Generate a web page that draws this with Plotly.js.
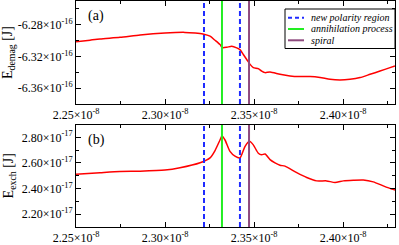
<!DOCTYPE html>
<html>
<head>
<meta charset="utf-8">
<script src="https://cdn.plot.ly/plotly-3.0.1.min.js"></script>
<style>
html,body{margin:0;padding:0;background:#fff;}
#chart{width:399px;height:245px;}
</style>
</head>
<body>
<div id="chart"></div>
<script>
// ---- data ----
var timeDemag = [2.2500e-8, 2.2579e-8, 2.2635e-8, 2.2747e-8, 2.2860e-8, 2.3000e-8, 2.3112e-8, 2.3169e-8, 2.3213e-8, 2.3253e-8, 2.3281e-8, 2.3309e-8, 2.3322e-8, 2.3347e-8, 2.3375e-8, 2.3403e-8, 2.3421e-8, 2.3440e-8, 2.3459e-8, 2.3478e-8, 2.3496e-8, 2.3524e-8, 2.3543e-8, 2.3562e-8, 2.3590e-8, 2.3646e-8, 2.3702e-8, 2.3758e-8, 2.3815e-8, 2.3871e-8, 2.3927e-8, 2.3983e-8, 2.4039e-8, 2.4096e-8, 2.4152e-8, 2.4208e-8, 2.4264e-8, 2.4292e-8];
var eDemag = [-6.3016e-16, -6.2994e-16, -6.2979e-16, -6.2959e-16, -6.2929e-16, -6.2904e-16, -6.2896e-16, -6.2904e-16, -6.2916e-16, -6.2944e-16, -6.2996e-16, -6.3050e-16, -6.3088e-16, -6.3084e-16, -6.3071e-16, -6.3091e-16, -6.3113e-16, -6.3175e-16, -6.3238e-16, -6.3300e-16, -6.3341e-16, -6.3354e-16, -6.3384e-16, -6.3404e-16, -6.3396e-16, -6.3425e-16, -6.3446e-16, -6.3454e-16, -6.3454e-16, -6.3466e-16, -6.3488e-16, -6.3496e-16, -6.3488e-16, -6.3466e-16, -6.3425e-16, -6.3384e-16, -6.3341e-16, -6.3319e-16];

var timeExch = [2.2500e-8, 2.2635e-8, 2.2747e-8, 2.2860e-8, 2.3000e-8, 2.3084e-8, 2.3197e-8, 2.3253e-8, 2.3281e-8, 2.3309e-8, 2.3320e-8, 2.3337e-8, 2.3365e-8, 2.3393e-8, 2.3421e-8, 2.3449e-8, 2.3474e-8, 2.3496e-8, 2.3524e-8, 2.3543e-8, 2.3562e-8, 2.3590e-8, 2.3618e-8, 2.3646e-8, 2.3674e-8, 2.3740e-8, 2.3796e-8, 2.3852e-8, 2.3908e-8, 2.3955e-8, 2.4002e-8, 2.4058e-8, 2.4114e-8, 2.4170e-8, 2.4226e-8, 2.4274e-8, 2.4292e-8];
var eExch = [2.511e-17, 2.524e-17, 2.534e-17, 2.536e-17, 2.544e-17, 2.562e-17, 2.601e-17, 2.639e-17, 2.697e-17, 2.779e-17, 2.810e-17, 2.779e-17, 2.690e-17, 2.653e-17, 2.639e-17, 2.728e-17, 2.769e-17, 2.741e-17, 2.676e-17, 2.664e-17, 2.670e-17, 2.626e-17, 2.601e-17, 2.582e-17, 2.575e-17, 2.524e-17, 2.486e-17, 2.460e-17, 2.460e-17, 2.447e-17, 2.460e-17, 2.465e-17, 2.467e-17, 2.452e-17, 2.421e-17, 2.396e-17, 2.389e-17];

var newPolarityTimes = [2.3219e-8, 2.3421e-8];
var annihilationTimes = [2.3320e-8];
var spiralTimes = [2.3472e-8];

var seriesNames = ["new polarity region", "annihilation process", "spiral"];

var xTickVals = [2.25e-8, 2.30e-8, 2.35e-8, 2.40e-8];
var xTickText = ["2.25×10<sup>-8</sup>", "2.30×10<sup>-8</sup>", "2.35×10<sup>-8</sup>", "2.40×10<sup>-8</sup>"];
var xMinorVals = [2.275e-8, 2.325e-8, 2.375e-8, 2.425e-8];

var yDemagTickVals = [-6.28e-16, -6.32e-16, -6.36e-16];
var yDemagTickText = ["-6.28×10<sup>-16</sup>", "-6.32×10<sup>-16</sup>", "-6.36×10<sup>-16</sup>"];
var yDemagMinorVals = [-6.26e-16, -6.30e-16, -6.34e-16, -6.38e-16];

var yExchTickVals = [2.2e-17, 2.4e-17, 2.6e-17, 2.8e-17];
var yExchTickText = ["2.20×10<sup>-17</sup>", "2.40×10<sup>-17</sup>", "2.60×10<sup>-17</sup>", "2.80×10<sup>-17</sup>"];
var yExchMinorVals = [2.1e-17, 2.3e-17, 2.5e-17, 2.7e-17, 2.9e-17];

// ---- layout constants ----
var xRange = [2.25e-8, 2.4292e-8];
var yDemagRange = [-6.38e-16, -6.25e-16];
var yExchRange = [2.1e-17, 2.9e-17];

var W = 399, H = 245, ML = 76, MR = 4, MT = 1, MB = 18;
var PW = W - ML - MR, PH = H - MT - MB;
function px2x(px) { return (px - ML) / PW; }
function px2y(py) { return (H - MB - py) / PH; }

var FONT = "Liberation Serif";
var BLUE = "#1f2bff", GREEN = "#22ee22", PURPLE = "#8e4a7e", RED = "#ff0000";
var seriesColors = [BLUE, GREEN, PURPLE];
var seriesDash = ["5px,3px", "solid", "solid"];

var traces = [];
traces.push({x: timeDemag, y: eDemag, xaxis: "x", yaxis: "y", mode: "lines",
  line: {color: RED, width: 1.5, shape: "spline", smoothing: 0.6}, showlegend: false, hoverinfo: "skip"});
traces.push({x: timeExch, y: eExch, xaxis: "x2", yaxis: "y2", mode: "lines",
  line: {color: RED, width: 1.5, shape: "spline", smoothing: 0.6}, showlegend: false, hoverinfo: "skip"});

function vlines(times, k) {
  times.forEach(function (t) {
    traces.push({x: [t, t], y: yDemagRange, xaxis: "x", yaxis: "y", mode: "lines",
      line: {color: seriesColors[k], width: 2, dash: seriesDash[k]}, name: seriesNames[k],
      showlegend: false, hoverinfo: "skip"});
    traces.push({x: [t, t], y: yExchRange, xaxis: "x2", yaxis: "y2", mode: "lines",
      line: {color: seriesColors[k], width: 2, dash: seriesDash[k]}, name: seriesNames[k],
      showlegend: false, hoverinfo: "skip"});
  });
}
vlines(newPolarityTimes, 0);
vlines(annihilationTimes, 1);
vlines(spiralTimes, 2);

function axisBase() {
  return {
    showline: true, linecolor: "#000", linewidth: 1, mirror: "allticks",
    ticks: "inside", ticklen: 5, tickwidth: 1, tickcolor: "#000",
    showgrid: false, zeroline: false,
    tickfont: {family: FONT, size: 12, color: "#000"},
    tickmode: "array", automargin: false
  };
}
function minor(vals) { return {tickvals: vals, ticks: "inside", ticklen: 3, tickcolor: "#000", tickwidth: 1}; }

var xa = Object.assign(axisBase(), {domain: [0, 1], range: xRange, anchor: "y",
  tickvals: xTickVals, ticktext: xTickText, minor: minor(xMinorVals)});
var xa2 = Object.assign(axisBase(), {domain: [0, 1], range: xRange, anchor: "y2",
  tickvals: xTickVals, ticktext: xTickText, minor: minor(xMinorVals)});
var ya = Object.assign(axisBase(), {domain: [px2y(104), 1], range: yDemagRange, anchor: "x",
  tickvals: yDemagTickVals, ticktext: yDemagTickText, minor: minor(yDemagMinorVals),
  title: {text: "E<sub>demag</sub> [J]", font: {family: FONT, size: 14, color: "#000"}, standoff: 4}});
var ya2 = Object.assign(axisBase(), {domain: [0, px2y(124.5)], range: yExchRange, anchor: "x2",
  tickvals: yExchTickVals, ticktext: yExchTickText, minor: minor(yExchMinorVals),
  title: {text: "E<sub>exch</sub> [J]", font: {family: FONT, size: 14, color: "#000"}, standoff: 4}});

// custom legend (box, sample lines, labels)
var shapes = [{type: "rect", xref: "paper", yref: "paper",
  x0: px2x(285), x1: px2x(395), y0: px2y(48.5), y1: px2y(9),
  line: {color: "#000", width: 1}, fillcolor: "#fff", layer: "above"}];
var annotations = [];
var legendRows = [17.7, 29, 40.3];
seriesNames.forEach(function (n, k) {
  shapes.push({type: "line", xref: "paper", yref: "paper",
    x0: px2x(288), x1: px2x(304), y0: px2y(legendRows[k]), y1: px2y(legendRows[k]),
    line: {color: seriesColors[k], width: 2, dash: k === 0 ? "4px,3px" : "solid"}, layer: "above"});
  annotations.push({text: n, xref: "paper", yref: "paper", x: px2x(309), y: px2y(legendRows[k]),
    xanchor: "left", yanchor: "middle", showarrow: false,
    font: {family: FONT, size: 10, color: "#000", style: "italic"}});
});
annotations.push({text: "(a)", xref: "x domain", yref: "y domain", x: 0.03, y: 0.95, xanchor: "left", yanchor: "top",
  showarrow: false, font: {family: FONT, size: 14, color: "#000"}});
annotations.push({text: "(b)", xref: "x2 domain", yref: "y2 domain", x: 0.03, y: 0.95, xanchor: "left", yanchor: "top",
  showarrow: false, font: {family: FONT, size: 14, color: "#000"}});

var layout = {
  width: W, height: H,
  margin: {l: ML, r: MR, t: MT, b: MB, pad: 0},
  paper_bgcolor: "#fff", plot_bgcolor: "#fff",
  font: {family: FONT, color: "#000"},
  xaxis: xa, yaxis: ya, xaxis2: xa2, yaxis2: ya2,
  showlegend: false,
  shapes: shapes,
  annotations: annotations
};

Plotly.newPlot("chart", traces, layout, {displayModeBar: false, staticPlot: true});
</script>
</body>
</html>
